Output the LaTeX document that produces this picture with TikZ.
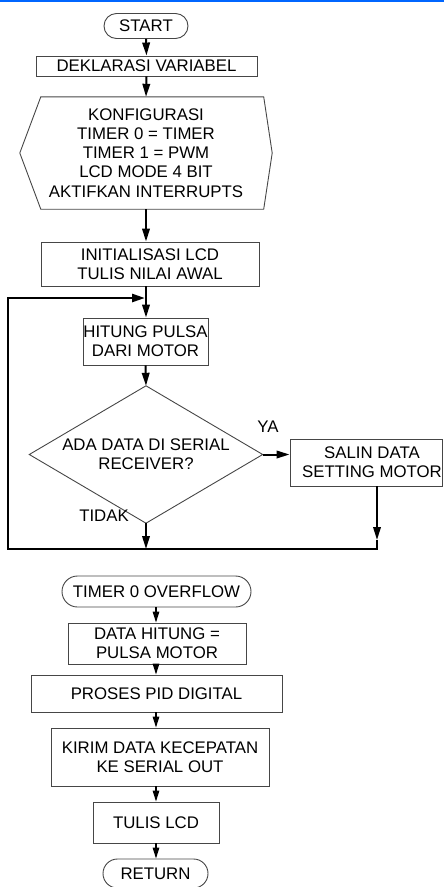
\documentclass[tikz,border=0pt]{standalone}
\usepackage{fontspec}
\setmainfont{Liberation Sans}
\usetikzlibrary{arrows.meta,shapes.misc,calc}
\definecolor{topblue}{RGB}{0,102,255}
\definecolor{edge}{RGB}{70,70,70}

\begin{document}
\begin{tikzpicture}[x=1pt,y=-1pt,
  every node/.style={font=\fontsize{16.8pt}{19.2pt}\selectfont, align=center, inner sep=0pt},
  procbox/.style={rectangle, draw=edge, line width=0.9pt},
  term/.style={rounded rectangle, draw=edge, line width=0.9pt},
  outline/.style={draw=edge, line width=0.9pt},
  flow/.style={line width=2pt, -{Triangle[length=13pt,width=7.5pt]}},
  loopline/.style={line width=2.6pt},
  loopflow/.style={line width=2.6pt, -{Triangle[length=13pt,width=8pt]}},
  thinflow/.style={line width=1.4pt, -{Triangle[length=11pt,width=6.5pt]}}]

\useasboundingbox (0,0) rectangle (444,887);
\fill[topblue] (0,0) rectangle (444,1.6);

% ---------------- main program ----------------
\node[term, minimum width=84pt, minimum height=25pt] (start) at (146,26) {START};
\node[procbox, minimum width=221pt, minimum height=20pt] (dekl) at (146.5,66) {DEKLARASI VARIABEL};

\node[minimum width=252pt, minimum height=112pt] (konf) at (146,153)
  {KONFIGURASI\\TIMER 0 = TIMER\\TIMER 1 = PWM\\LCD MODE 4 BIT\\AKTIFKAN INTERRUPTS};
\draw[outline] (konf.west) -- ([xshift=21pt]konf.north west) -- ([xshift=-8.5pt]konf.north east)
  -- (konf.east) -- ([xshift=-8.5pt]konf.south east) -- ([xshift=21pt]konf.south west) -- cycle;

\node[procbox, minimum width=218pt, minimum height=44pt] (init) at (150,264)
  {INITIALISASI LCD\\TULIS NILAI AWAL};
\node[procbox, minimum width=125pt, minimum height=47pt] (hitung) at (145.5,341.5)
  {HITUNG PULSA\\DARI MOTOR};

\node[minimum width=233pt, minimum height=137pt] (dia) at (146,454.5)
  {ADA DATA DI SERIAL\\RECEIVER?};
\draw[outline] (dia.north) -- (dia.east) -- (dia.south) -- (dia.west) -- cycle;

\node[procbox, minimum width=152pt, minimum height=47pt,
  label={[name=salintxt, xshift=6pt, align=center]center:SALIN DATA\\SETTING MOTOR}]
  (salin) at (366,462.5) {};

\node (ya) at (268,427) {YA};
\node (tidak) at (104,516) {TIDAK};

\coordinate (jn) at (146,298);
\coordinate (lt) at (8,298);
\coordinate (lb) at (8,549);
\coordinate (jm) at (146,549);
\coordinate (jr) at (377,549);

\draw[flow] (start.south) -- (dekl.north);
\draw[flow] (dekl.south) -- (konf.north);
\draw[flow] (konf.south) -- (konf.south |- init.north);
\draw[flow] (init.south -| konf.south) -- (hitung.north -| konf.south);
\draw[flow] (hitung.south) -- (dia.north);
\draw[flow] (dia.east) -- (dia.east -| salin.west);
\draw[flow] (dia.south) -- (jm);
\draw[flow] (salin.south -| jr) -- ([yshift=9pt]jr);
\draw[loopflow] ([yshift=9pt]jr) -- (jr) -- (lb) -- (lt) -- ([xshift=-1pt]jn);

% ---------------- timer interrupt ----------------
\node[term, minimum width=189pt, minimum height=31pt] (timer) at (156.5,591.5) {TIMER 0 OVERFLOW};
\node[procbox, minimum width=178pt, minimum height=41pt] (datah) at (157,643.5)
  {DATA HITUNG =\\PULSA MOTOR};
\node[procbox, minimum width=251pt, minimum height=37pt] (pid) at (156.5,693.5) {PROSES PID DIGITAL};
\node[procbox, minimum width=218pt, minimum height=58pt] (kirim) at (160,757)
  {KIRIM DATA KECEPATAN\\KE SERIAL OUT};
\node[procbox, minimum width=126pt, minimum height=41pt] (tulis) at (156,822.5) {TULIS LCD};
\node[term, minimum width=105pt, minimum height=29pt] (ret) at (155.5,873.5) {RETURN};

\coordinate (bx) at (156,0);
\draw[thinflow] (timer.south -| bx) -- (datah.north -| bx);
\draw[thinflow] (datah.south -| bx) -- (pid.north -| bx);
\draw[thinflow] (pid.south -| bx) -- (kirim.north -| bx);
\draw[thinflow] (kirim.south -| bx) -- (tulis.north -| bx);
\draw[thinflow] (tulis.south -| bx) -- (ret.north -| bx);
\end{tikzpicture}
\end{document}
